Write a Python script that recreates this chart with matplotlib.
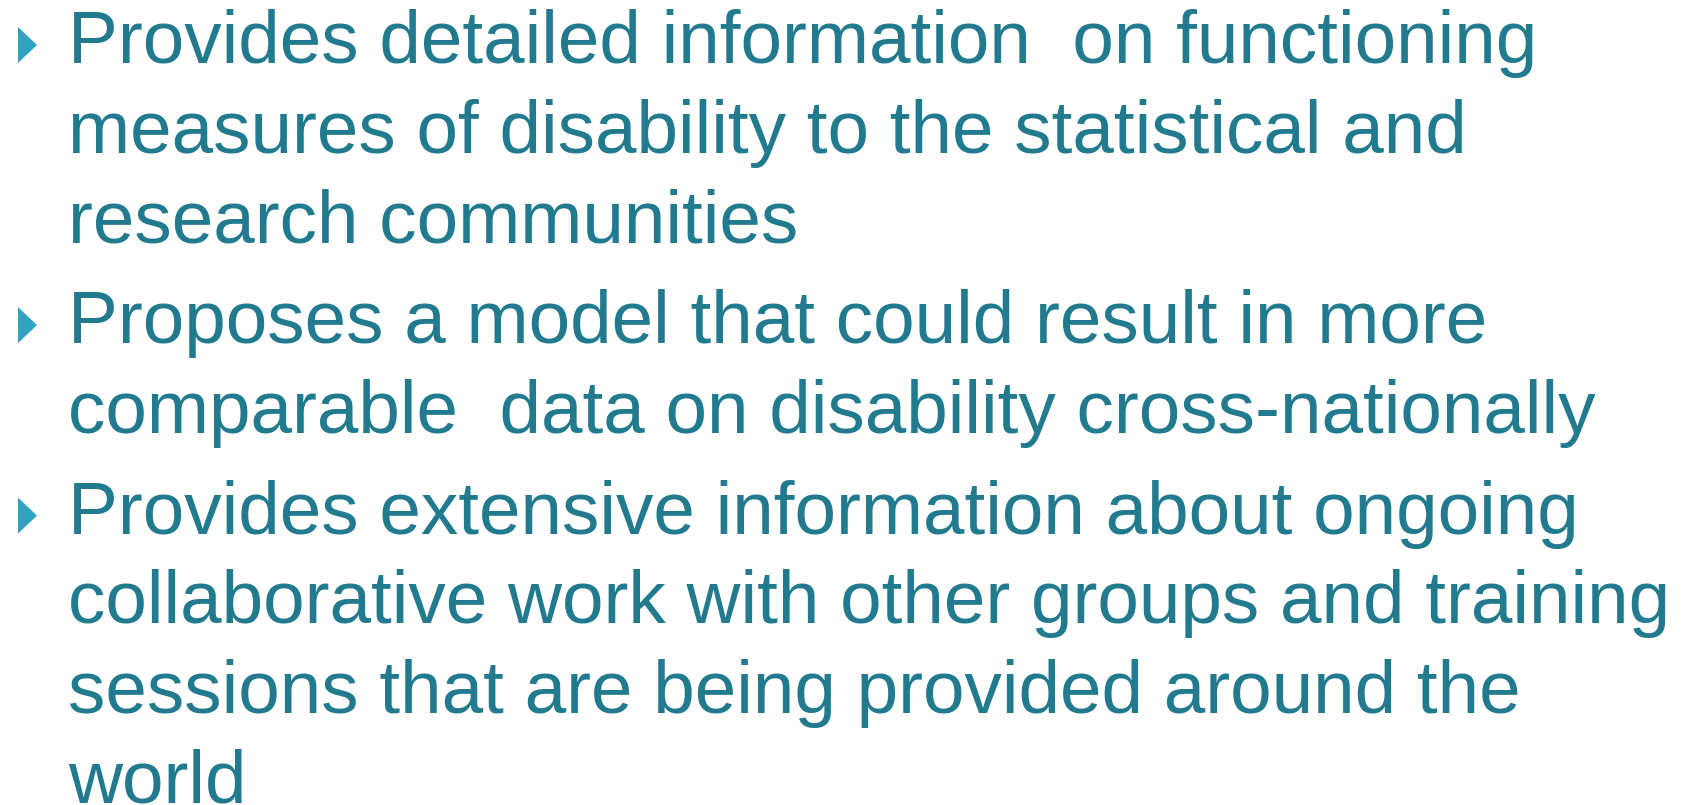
import matplotlib
matplotlib.use("Agg")
import matplotlib.pyplot as plt
from matplotlib.patches import Polygon

# bullet paragraphs, each a list of wrapped lines
bullets = [
    ["Provides detailed information  on functioning",
     "measures of disability to the statistical and",
     "research communities"],
    ["Proposes a model that could result in more",
     "comparable  data on disability cross-nationally"],
    ["Provides extensive information about ongoing",
     "collaborative work with other groups and training",
     "sessions that are being provided around the",
     "world"],
]

TEXT_COLOR = "#227a8e"
BULLET_COLOR = "#2ea4c0"
W, H = 1692, 805

fig = plt.figure(figsize=(W / 100, H / 100), dpi=100)
ax = fig.add_axes([0, 0, 1, 1])
ax.set_xlim(0, W)
ax.set_ylim(H, 0)
ax.axis("off")

y = 63          # baseline of first line (pixels from top)
line_step = 89.6
para_gap = 11.3

for para in bullets:
    # triangle bullet, bottom aligned with baseline
    tri = Polygon([(18, y - 36), (37, y - 18), (18, y)], closed=True,
                  facecolor=BULLET_COLOR, edgecolor="none")
    ax.add_patch(tri)
    for line in para:
        ax.text(68, y, line, fontsize=53.8, family="Liberation Sans",
                color=TEXT_COLOR, va="baseline", ha="left")
        y += line_step
    y += para_gap

fig.savefig("out.png", dpi=100)
